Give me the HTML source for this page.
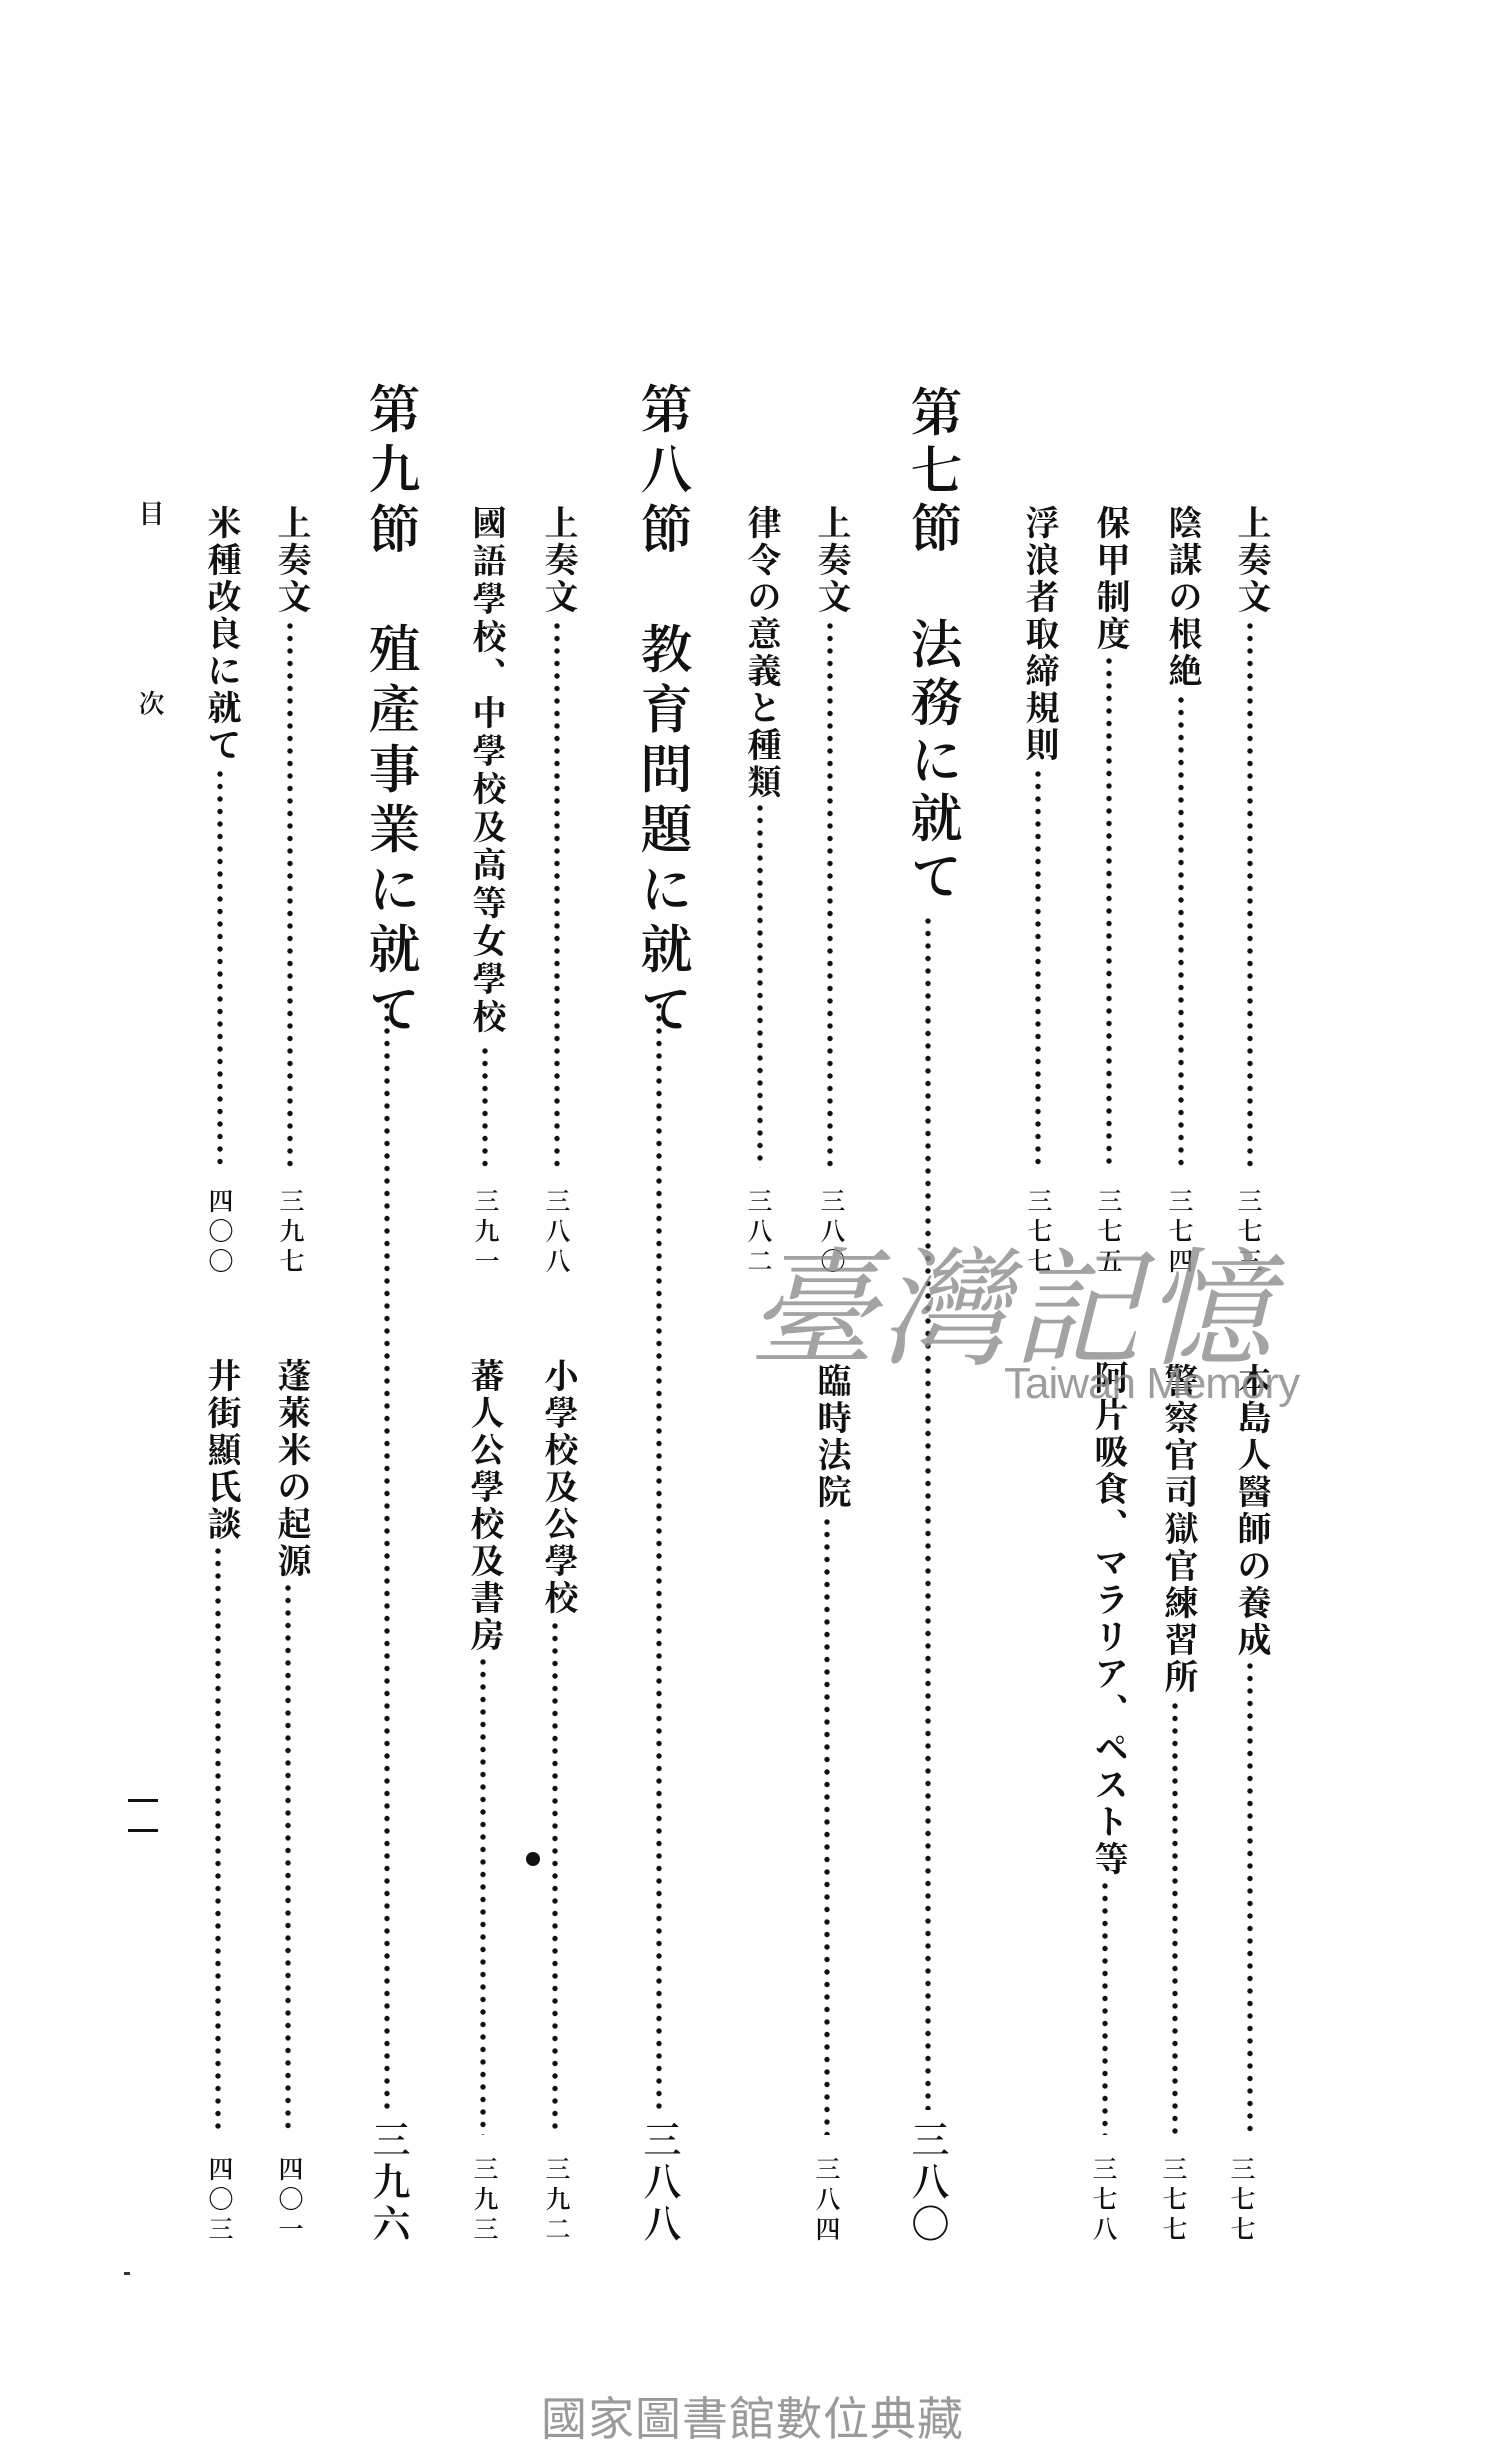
<!DOCTYPE html>
<html><head><meta charset="utf-8">
<style>
html,body{margin:0;padding:0;background:#fff;}
body{width:1510px;height:2464px;position:relative;overflow:hidden;font-family:"Liberation Serif","Noto Serif CJK SC",serif;color:#111;}
.t,.s,.n,.b{position:absolute;writing-mode:vertical-rl;line-height:1;white-space:nowrap;font-weight:700;}
.t{font-size:34px;letter-spacing:3px;width:34px;}
.s{font-size:52px;letter-spacing:4px;width:52px;font-weight:600;}
.n{font-size:25px;letter-spacing:5px;width:25px;font-weight:600;}
.b{font-size:38px;letter-spacing:4px;width:38px;font-weight:600;}
.d{position:absolute;width:10px;background-image:radial-gradient(circle at 5px 6px,#111 2.3px,rgba(0,0,0,0) 3px);background-size:10px 12.5px;background-repeat:repeat-y;}
</style></head><body>

<!-- Col A -->
<div class="t" style="left:1233px;top:505px">上奏文</div>
<div class="d" style="left:1245px;top:620px;height:548px"></div>
<div class="n" style="left:1235px;top:1188px">三七三</div>
<div class="t" style="left:1233px;top:1363px">本島人醫師の養成</div>
<div class="d" style="left:1245px;top:1660px;height:475px"></div>
<div class="n" style="left:1228px;top:2156px">三七七</div>

<!-- Col B -->
<div class="t" style="left:1164px;top:505px">陰謀の根絶</div>
<div class="d" style="left:1176px;top:694px;height:474px"></div>
<div class="n" style="left:1166px;top:1188px">三七四</div>
<div class="t" style="left:1160px;top:1363px">警察官司獄官練習所</div>
<div class="d" style="left:1170px;top:1700px;height:435px"></div>
<div class="n" style="left:1160px;top:2156px">三七七</div>

<!-- Col C -->
<div class="t" style="left:1092px;top:505px">保甲制度</div>
<div class="d" style="left:1104px;top:655px;height:513px"></div>
<div class="n" style="left:1095px;top:1188px">三七五</div>
<div class="t" style="left:1090px;top:1360px">阿片吸食、マラリア、ペスト等</div>
<div class="d" style="left:1100px;top:1880px;height:255px"></div>
<div class="n" style="left:1090px;top:2156px">三七八</div>

<!-- Col D -->
<div class="t" style="left:1021px;top:505px">浮浪者取締規則</div>
<div class="d" style="left:1033px;top:768px;height:400px"></div>
<div class="n" style="left:1025px;top:1188px">三七七</div>

<!-- Col E section -->
<div class="s" style="left:904px;top:385px;letter-spacing:6px">第七節　法務に就て</div>
<div class="d" style="left:923px;top:915px;height:1195px"></div>
<div class="b" style="left:907px;top:2120px">三八〇</div>

<!-- Col F -->
<div class="t" style="left:813px;top:505px">上奏文</div>
<div class="d" style="left:825px;top:620px;height:548px"></div>
<div class="n" style="left:818px;top:1188px">三八〇</div>
<div class="t" style="left:813px;top:1363px">臨時法院</div>
<div class="d" style="left:822px;top:1516px;height:619px"></div>
<div class="n" style="left:813px;top:2156px">三八四</div>

<!-- Col G -->
<div class="t" style="left:743px;top:505px">律令の意義と種類</div>
<div class="d" style="left:755px;top:802px;height:366px"></div>
<div class="n" style="left:745px;top:1188px">三八二</div>

<!-- Col H section -->
<div class="s" style="left:634px;top:382px;letter-spacing:8px">第八節　教育問題に就て</div>
<div class="d" style="left:654px;top:1000px;height:1110px"></div>
<div class="b" style="left:639px;top:2120px">三八八</div>

<!-- Col I -->
<div class="t" style="left:540px;top:505px">上奏文</div>
<div class="d" style="left:552px;top:620px;height:548px"></div>
<div class="n" style="left:543px;top:1188px">三八八</div>
<div class="t" style="left:540px;top:1358px">小學校及公學校</div>
<div class="d" style="left:550px;top:1620px;height:515px"></div>
<div class="n" style="left:543px;top:2156px">三九二</div>
<div style="position:absolute;left:526px;top:1852px;width:14px;height:14px;border-radius:50%;background:#111"></div>

<!-- Col J -->
<div class="t" style="left:468px;top:505px;letter-spacing:4px">國語學校、中學校及高等女學校</div>
<div class="d" style="left:480px;top:1045px;height:123px"></div>
<div class="n" style="left:472px;top:1188px">三九一</div>
<div class="t" style="left:466px;top:1358px">蕃人公學校及書房</div>
<div class="d" style="left:478px;top:1656px;height:479px"></div>
<div class="n" style="left:471px;top:2156px">三九三</div>

<!-- Col K section -->
<div class="s" style="left:362px;top:382px;letter-spacing:8px">第九節　殖產事業に就て</div>
<div class="d" style="left:382px;top:1000px;height:1110px"></div>
<div class="b" style="left:368px;top:2120px">三九六</div>

<!-- Col L -->
<div class="t" style="left:273px;top:505px">上奏文</div>
<div class="d" style="left:285px;top:620px;height:548px"></div>
<div class="n" style="left:277px;top:1188px">三九七</div>
<div class="t" style="left:273px;top:1358px">蓬萊米の起源</div>
<div class="d" style="left:283px;top:1582px;height:553px"></div>
<div class="n" style="left:276px;top:2156px">四〇一</div>

<!-- Col M -->
<div class="t" style="left:203px;top:505px">米種改良に就て</div>
<div class="d" style="left:215px;top:768px;height:400px"></div>
<div class="n" style="left:206px;top:1188px">四〇〇</div>
<div class="t" style="left:203px;top:1358px">井街顯氏談</div>
<div class="d" style="left:213px;top:1545px;height:590px"></div>
<div class="n" style="left:206px;top:2156px">四〇三</div>

<!-- Col N -->
<div class="n" style="left:136px;top:500px;font-size:26px;width:26px">目</div>
<div class="n" style="left:136px;top:690px;font-size:26px;width:26px">次</div>
<div style="position:absolute;left:128px;top:1799px;width:30px;height:3px;background:#111"></div>
<div style="position:absolute;left:128px;top:1829px;width:30px;height:3px;background:#111"></div>
<div style="position:absolute;left:124px;top:2272px;width:6px;height:3px;background:#333"></div>

<!-- Watermark -->
<div style="position:absolute;left:748px;top:1235px;font-family:'Noto Serif CJK SC',serif;font-size:128px;line-height:1;letter-spacing:4px;color:rgba(140,140,140,0.8);font-style:italic;white-space:nowrap">臺灣記憶</div>
<div style="position:absolute;left:1004px;top:1362px;font-family:'Liberation Sans',sans-serif;font-size:44px;line-height:1;color:rgba(140,140,140,0.85);white-space:nowrap;letter-spacing:-1px">Taiwan Memory</div>

<!-- Footer -->
<div style="position:absolute;left:541px;top:2396px;font-family:'Liberation Sans','Noto Sans CJK TC',sans-serif;font-size:46px;line-height:1;color:#9a9a9a;white-space:nowrap;letter-spacing:1px">國家圖書館數位典藏</div>
</body></html>
